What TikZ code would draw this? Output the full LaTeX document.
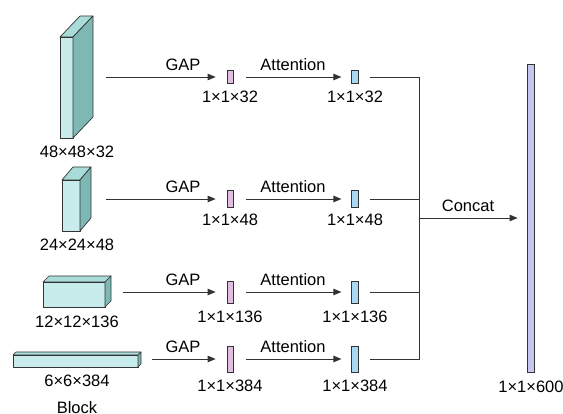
\documentclass[tikz,border=0pt]{standalone}
\usepackage{fontspec}
\setmainfont{Liberation Sans}
\usetikzlibrary{arrows.meta}
\definecolor{cfront}{HTML}{C8ECEC}
\definecolor{ctop}{HTML}{A9DCD8}
\definecolor{cside}{HTML}{7DB8B4}
\definecolor{cpink}{HTML}{E2BDE2}
\definecolor{cblue}{HTML}{A8D8F2}
\definecolor{clav}{HTML}{C6C6EE}
\definecolor{cline}{HTML}{333333}
\newcommand\mycuboid[6]{%
  \filldraw[boxline,fill=cfront] (#1,#2) rectangle (#3,#4);
  \filldraw[boxline,fill=ctop] (#1,#2) -- ++(#5,#6) -- ($(#3,#2)+(#5,#6)$) -- (#3,#2) -- cycle;
  \filldraw[boxline,fill=cside] (#3,#2) -- ++(#5,#6) -- ($(#3,#4)+(#5,#6)$) -- (#3,#4) -- cycle;
}
\usetikzlibrary{calc}
\begin{document}
\begin{tikzpicture}[x=1pt,y=-1pt,
  boxline/.style={draw=cline,line width=0.7pt,line join=round},
  lbl/.style={font=\fontsize{16.5}{18}\selectfont,text=black,inner sep=0pt},
  pinkbar/.style={draw=cline,line width=0.7pt,fill=cpink,minimum width=6pt,inner sep=0pt},
  bluebar/.style={draw=cline,line width=0.7pt,fill=cblue,minimum width=6.5pt,inner sep=0pt},
  arr/.style={draw=cline,line width=0.9pt,-{Triangle[length=8pt,width=6.5pt]}},
  conn/.style={draw=cline,line width=0.9pt}]
\useasboundingbox (0,0) rectangle (563,414);
% cuboids
\mycuboid{60}{37}{73}{138}{20}{-21}
\mycuboid{62}{180}{80}{231}{11}{-13}
\mycuboid{43}{282}{105}{307}{6}{-6}
\mycuboid{13}{355}{138}{367}{3}{-3}
\node[lbl] (c1) at (77,152) {48×48×32};
\node[lbl] (c2) at (77,245) {24×24×48};
\node[lbl] (c3) at (77,322) {12×12×136};
\node[lbl] (c4) at (77,381) {6×6×384};
\node[lbl] (blk) at (77,408) {Block};
% arrow starts
\coordinate (s1) at (106,77);
\coordinate (s2) at (106,199);
\coordinate (s3) at (123,292);
\coordinate (s4) at (152,359);
% pink bars
\node[pinkbar,minimum height=13pt] (p1) at (230,77) {};
\node[pinkbar,minimum height=17pt] (p2) at (230,199) {};
\node[pinkbar,minimum height=22pt] (p3) at (230,292) {};
\node[pinkbar,minimum height=26pt] (p4) at (230,359) {};
% blue bars
\node[bluebar,minimum height=13pt] (q1) at (355,77) {};
\node[bluebar,minimum height=17pt] (q2) at (355,199) {};
\node[bluebar,minimum height=22pt] (q3) at (355,292) {};
\node[bluebar,minimum height=26pt] (q4) at (355,359) {};
% bar labels
\node[lbl] (pl1) at (230,97) {1×1×32};
\node[lbl] (pl2) at (230,220) {1×1×48};
\node[lbl] (pl3) at (230,317) {1×1×136};
\node[lbl] (pl4) at (230,386) {1×1×384};
\node[lbl] (ql1) at (355,97) {1×1×32};
\node[lbl] (ql2) at (355,220) {1×1×48};
\node[lbl] (ql3) at (355,317) {1×1×136};
\node[lbl] (ql4) at (355,386) {1×1×384};
% GAP / Attention labels
\node[lbl] (g1) at (183,65) {GAP};
\node[lbl] (g2) at (183,187) {GAP};
\node[lbl] (g3) at (183,280) {GAP};
\node[lbl] (g4) at (183,347) {GAP};
\node[lbl] (a1) at (293,65) {Attention};
\node[lbl] (a2) at (293,187) {Attention};
\node[lbl] (a3) at (293,280) {Attention};
\node[lbl] (a4) at (293,347) {Attention};
% arrows
\foreach \i in {1,2,3,4}{
  \draw[arr] (s\i) -- ([xshift=-11pt]p\i.west);
  \draw[arr] ([xshift=13pt]p\i.east) -- ([xshift=-10pt]q\i.west);
}
% merge
\coordinate (m1) at (419,77);
\coordinate (m4) at (419,359);
\coordinate (mc) at (419,218);
\draw[conn] ([xshift=11pt]q1.east) -- (m1) -- (m4) -- ([xshift=11pt]q4.east);
\draw[conn] ([xshift=11pt]q2.east) -- (m1 |- q2);
\draw[conn] ([xshift=11pt]q3.east) -- (m1 |- q3);
% final bar
\node[draw=cline,line width=0.7pt,fill=clav,minimum width=7pt,minimum height=308pt,inner sep=0pt] (fb) at (530.5,218) {};
\draw[arr] (mc) -- ([xshift=-9pt]fb.west |- mc);
\node[lbl] (cc) at (468,206) {Concat};
\node[lbl] (fl) at (531,387) {1×1×600};
\end{tikzpicture}
\end{document}
